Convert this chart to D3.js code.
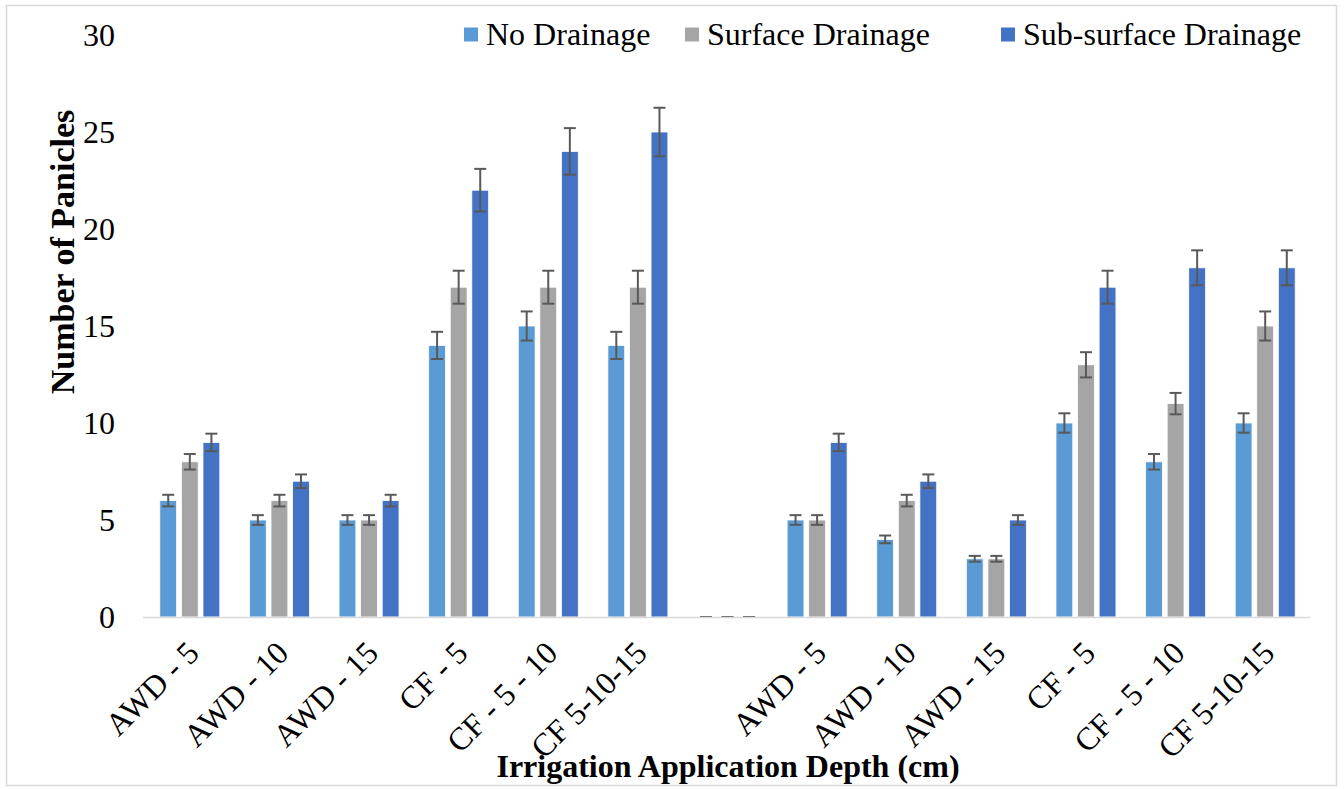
<!DOCTYPE html>
<html>
<head>
<meta charset="utf-8">
<script src="https://cdn.jsdelivr.net/npm/d3@7"></script>
<style>
  body { margin: 0; background: #fff; }
</style>
</head>
<body>
<svg id="chart" width="1344" height="789"></svg>
<script>
// categories (empty slot in the middle separates the two seasons)
const categories = ['AWD - 5', 'AWD - 10', 'AWD - 15', 'CF - 5', 'CF - 5 - 10', 'CF 5-10-15', '',
                    'AWD - 5', 'AWD - 10', 'AWD - 15', 'CF - 5', 'CF - 5 - 10', 'CF 5-10-15'];
const seriesNames = ['No Drainage', 'Surface Drainage', 'Sub-surface Drainage'];
const noDrainage = [6, 5, 5, 14, 15, 14, 0, 5, 4, 3, 10, 8, 10];
const surfaceDrainage = [8, 6, 5, 17, 17, 17, 0, 5, 6, 3, 13, 11, 15];
const subSurfaceDrainage = [9, 7, 6, 22, 24, 25, 0, 9, 7, 5, 17, 18, 18];
const yTicks = [0, 5, 10, 15, 20, 25, 30];
const errPct = 0.05; // percentage error bars

const colors = ['#5B9BD5', '#A5A5A5', '#4472C4'];
const series = [noDrainage, surfaceDrainage, subSurfaceDrainage];
const FONT = 'Liberation Serif';

const svg = d3.select('#chart').attr('font-family', FONT);
const W = 1344, H = 789;
const margin = { left: 145, right: 34, top: 35, bottom: 172 };

// outer frame
svg.append('rect')
    .attr('x', 6.5).attr('y', 5.5)
    .attr('width', 1330).attr('height', 780)
    .attr('fill', '#fff').attr('stroke', '#d9d9d9').attr('stroke-width', 1.5);

const x = d3.scaleBand()
    .domain(d3.range(categories.length))
    .range([margin.left, W - margin.right]);

const xInner = d3.scaleBand()
    .domain(d3.range(seriesNames.length))
    .range([0, 60])
    .paddingInner(0.22);

const y = d3.scaleLinear()
    .domain([0, 30])
    .range([H - margin.bottom, margin.top]);

// y axis labels (no axis line)
const yAxis = svg.append('g')
    .attr('transform', `translate(${margin.left - 30},0)`)
    .call(d3.axisLeft(y).tickValues(yTicks).tickSize(0).tickPadding(0))
    .attr('font-family', FONT)
    .attr('font-size', 32);
yAxis.select('.domain').remove();
yAxis.selectAll('text').attr('fill', '#000');

// bars
const groups = svg.append('g').selectAll('g')
    .data(series)
    .join('g')
    .attr('fill', (d, i) => colors[i]);

groups.each(function (vals, si) {
    const g = d3.select(this);
    const cx = ci => x(ci) + (x.bandwidth() - 60) / 2 + xInner(si);
    g.selectAll('rect')
        .data(vals)
        .join('rect')
        .attr('x', (d, ci) => cx(ci))
        .attr('y', d => y(d))
        .attr('width', xInner.bandwidth())
        .attr('height', d => y(0) - y(d))
        .attr('stroke', '#fff')
        .attr('stroke-width', 0.8);

    // error bars
    const eb = g.append('g').selectAll('g')
        .data(vals)
        .join('g')
        .attr('transform', (d, ci) => `translate(${cx(ci) + xInner.bandwidth() / 2},0)`);
    eb.append('line')
        .attr('y1', d => y(d * (1 + errPct)))
        .attr('y2', d => y(d * (1 - errPct)))
        .attr('stroke', '#595959').attr('stroke-width', 2);
    eb.append('line')
        .attr('x1', -6).attr('x2', 6)
        .attr('y1', d => y(d * (1 + errPct))).attr('y2', d => y(d * (1 + errPct)))
        .attr('stroke', '#595959').attr('stroke-width', 2);
    eb.append('line')
        .attr('x1', -6).attr('x2', 6)
        .attr('y1', d => y(d * (1 - errPct))).attr('y2', d => y(d * (1 - errPct)))
        .attr('stroke', '#595959').attr('stroke-width', 2)
        .attr('stroke-opacity', d => d === 0 ? 0.35 : 1);
});

// x axis line
svg.append('line')
    .attr('x1', margin.left - 2).attr('x2', W - margin.right)
    .attr('y1', y(0) + 0.5).attr('y2', y(0) + 0.5)
    .attr('stroke', '#d9d9d9').attr('stroke-width', 1.5);

// rotated category labels
svg.append('g').selectAll('text')
    .data(categories)
    .join('text')
    .attr('transform', (d, i) => `translate(${x(i) + x.bandwidth() / 2 + 11},${y(0) + 38}) rotate(-45)`)
    .attr('text-anchor', 'end')
    .attr('font-size', 32)
    .text(d => d);

// axis titles
svg.append('text')
    .attr('transform', `translate(74,252) rotate(-90)`)
    .attr('text-anchor', 'middle')
    .attr('font-size', 34)
    .attr('font-weight', 'bold')
    .text('Number of Panicles');

svg.append('text')
    .attr('x', 728).attr('y', 777)
    .attr('text-anchor', 'middle')
    .attr('font-size', 32)
    .attr('font-weight', 'bold')
    .text('Irrigation Application Depth (cm)');

// legend
const legendX = [464, 685, 1001];
const legend = svg.append('g').selectAll('g')
    .data(seriesNames)
    .join('g')
    .attr('transform', (d, i) => `translate(${legendX[i]},35)`);
legend.append('rect')
    .attr('x', 0).attr('y', -7.5)
    .attr('width', 14).attr('height', 14)
    .attr('fill', (d, i) => colors[i]);
legend.append('text')
    .attr('x', 22).attr('y', 10)
    .attr('font-size', 32)
    .text(d => d);
</script>
</body>
</html>
